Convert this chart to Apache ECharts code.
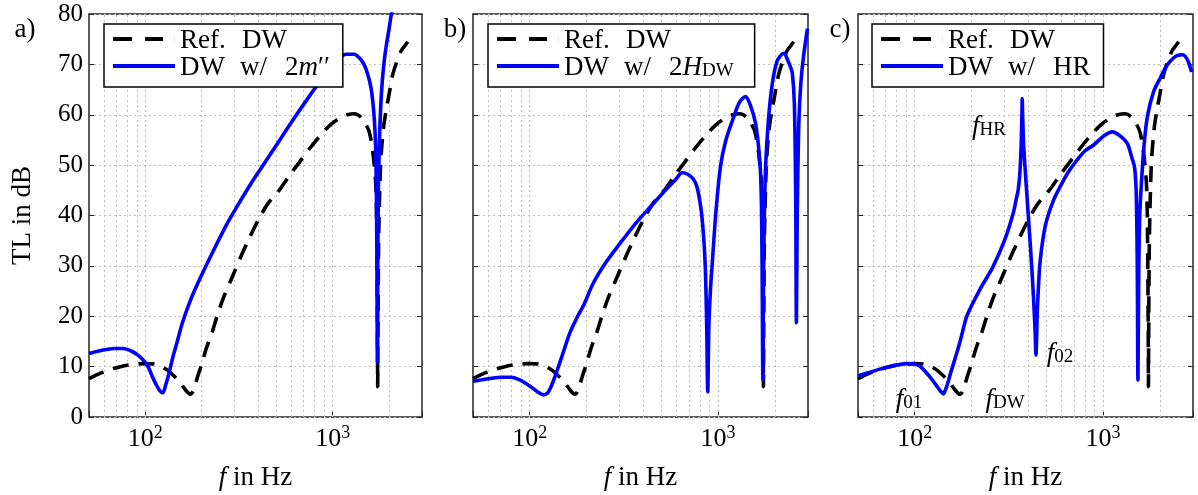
<!DOCTYPE html>
<html><head><meta charset="utf-8">
<script src="https://cdn.jsdelivr.net/npm/echarts@6/dist/echarts.min.js"></script>
<style>html,body{margin:0;padding:0;background:#fff}#c{width:1198px;height:495px}</style>
</head><body><div id="c"></div><script>
// ---------- data ----------
const refFreq = [50,56,63,72,84,100,112,122,130,140,152,162,169,174,179,184,190,200,211,227,241,260,291,325,355,373,410,454,518,590,662,750,847,960,1086,1200,1307,1420,1500,1571,1640,1700,1722,1735,1740,1746,1760,1790,1815,1870,1929,2000,2095,2200,2323,2420,2520];
const refTL   = [7.6,8.5,9.3,9.9,10.4,10.6,10.5,10.0,9.4,8.4,7.0,5.6,4.8,4.5,5.0,6.2,8.0,10.5,13.5,16.8,19.9,23.5,27.8,32.0,35.1,36.8,39.8,42.5,45.0,48.0,50.5,53.2,55.6,57.8,59.3,60.0,60.2,59.5,58.2,56.5,52.5,46,35,18,6,18,35,47,52,57.5,60.8,64.0,68.0,70.5,72.7,73.6,74.5];

const massFreq = [50,58,68,76,84,92,99,104,109,114,119,124,128,132,136,140,148,158,175,193,230,268,310,373,440,518,610,720,850,1000,1090,1180,1300,1387,1470,1538,1600,1636,1670,1695,1712,1724,1733,1742,1755,1778,1820,1870,1930,2000,2060,2200];
const massTL   = [12.6,13.2,13.6,13.6,13.1,12.2,11.0,9.8,8.0,6.5,5.3,4.8,6.2,7.9,9.8,11.8,15.0,18.8,23.4,27.0,32.9,37.8,41.9,46.8,50.8,54.8,58.8,62.7,66.5,70.2,71.4,72.0,72.0,71.3,70.0,68.1,65.5,62.8,59.0,54.0,45.0,30.0,10.9,30.0,45.0,55.0,64.0,69.5,73.5,77.0,80.0,85.0];

const heightFreq = [50,60,72,80,88,96,104,112,118,124,129,133,140,150,163,177,195,217,255,302,370,454,540,600,643,690,740,772,810,835,855,870,881,893,910,929,975,1029,1100,1211,1300,1397,1480,1580,1650,1690,1712,1728,1740,1760,1787,1850,1940,2050,2150,2239,2330,2420,2479,2540,2580,2604,2630,2680,2748,2850,2981];
const heightTL   = [7.1,7.6,7.9,7.9,7.4,6.6,5.7,4.8,4.4,4.7,5.8,7.0,9.3,12.6,16.6,19.5,22.5,26.5,30.8,34.5,38.7,42.4,45.5,47.3,48.5,48.2,47.2,45.7,41.5,36.5,29.8,18.0,5.0,18.0,25.0,30.0,41.0,49.7,55.0,59.6,62.5,63.6,62.0,58.3,52.5,46.0,30.0,7.3,25.0,40.0,49.7,59.0,66.2,70.5,71.8,72.2,71.0,69.5,68.2,62.0,45.0,18.7,40.0,58.0,66.2,72.0,77.1];

const hrFreq = [50,58,68,80,91,100,107,114,120,126,133,138,142,146,150,155,165,175,187,195,221,260,300,333,347,354,360,364,367,369,371,372,374,376,379,390,400,411,422,430,436,440,444,447,454,462,480,502,545,591,650,727,800,891,1000,1117,1230,1343,1420,1470,1500,1518,1531,1545,1565,1597,1650,1717,1850,2023,2200,2486,2650,2810,2950];
const hrTL   = [8.2,8.9,9.7,10.3,10.6,10.5,10.0,9.0,8.0,7.0,5.8,5.0,4.6,5.5,6.8,8.7,12.0,15.3,19.5,21.2,25.2,29.8,35.1,40.4,43.5,45.0,47.5,50.3,53.5,56.9,60.5,63.2,60.0,57.0,53.6,46.5,40.4,34.0,27.2,21.5,16.6,12.3,16.0,20.6,26.0,30.5,35.5,39.1,43.0,45.7,48.5,51.0,52.8,54.0,55.7,56.6,55.8,54.3,51.5,49.5,44.0,30.0,7.3,28.0,40.0,46.4,54.0,59.6,64.5,67.5,70.0,71.8,71.9,70.8,68.5];

const refName = 'Ref. DW';
const blueNames = ['DW w/ 2m', 'DW w/ 2H_DW', 'DW w/ HR'];
const blueFreqs = [massFreq, heightFreq, hrFreq];
const blueTLs = [massTL, heightTL, hrTL];
const panelLabels = ['a)', 'b)', 'c)'];
const yTickStep = 10;
const xGridValues = [60,70,80,90,100,200,300,400,500,600,700,800,900,1000,2000];
const annotations = [
  {main: 'f', sub: 'HR', x: 989, y: 125},
  {main: 'f', sub: '02', x: 1060, y: 352},
  {main: 'f', sub: '01', x: 909, y: 398},
  {main: 'f', sub: 'DW', x: 1005, y: 398}
];

// ---------- layout / style ----------
const FONT = 'Liberation Serif';
const AX = '#262626';
const GRIDC = '#bdbdbd';
const gridBoxes = [{left: 89, width: 333}, {left: 473, width: 335}, {left: 858, width: 335}];
const TOP = 14, HEIGHT = 403;
const legendBoxes = [{left: 104, pr: 13}, {left: 488, pr: 21}, {left: 872, pr: 13}];
const legendPadL = [9, 9, 9];

const zip = (a, b) => a.map((v, i) => [v, b[i]]);

const baseTok = {fontFamily: FONT, fontSize: 27, lineHeight: 30, color: '#000', verticalAlign: 'bottom', align: 'left'};
const legendRich = {
  r: Object.assign({}, baseTok),
  ref: Object.assign({}, baseTok, {width: 62}),
  dw: Object.assign({}, baseTok, {width: 60}),
  w: Object.assign({}, baseTok, {width: 45}),
  i: Object.assign({}, baseTok, {fontStyle: 'italic'}),
  s: Object.assign({}, baseTok, {fontSize: 19, lineHeight: 15})
};
const legendText = {
  'Ref. DW': '{ref|Ref.}{r|DW}',
  'DW w/ 2m': '{dw|DW}{w|w/}{r|2}{i|m}{r|\u2032\u2032}',
  'DW w/ 2H_DW': '{dw|DW}{w|w/}{r|2}{i|H}{s|DW}',
  'DW w/ HR': '{dw|DW}{w|w/}{r|HR}'
};
const DASH_ICON = 'path://M0,0H19V4H0Z M32,0H50V4H32Z M61.9,0H62V4H61.9Z';

const grid = [], xAxis = [], yAxis = [], series = [], legend = [], graphic = [];
for (let i = 0; i < 3; i++) {
  grid.push({left: gridBoxes[i].left, width: gridBoxes[i].width, top: TOP, height: HEIGHT,
    show: true, borderColor: AX, borderWidth: 1.5, backgroundColor: '#fff',
    containLabel: false, outerBoundsMode: 'none'});
  xAxis.push({
    type: 'log', logBase: 10, gridIndex: i, min: 50, max: 3000,
    axisLine: {show: false},
    axisTick: {show: true, inside: true, length: 6, lineStyle: {color: AX, width: 1}},
    splitLine: {show: false},
    axisLabel: {
      margin: 7, color: '#000',
      formatter: function (v) {
        const e = Math.round(Math.log10(v));
        if (Math.abs(v - Math.pow(10, e)) < 1e-6 * v) return '{b|10}{p|' + e + '}';
        return '';
      },
      rich: {
        b: {fontFamily: FONT, fontSize: 26, lineHeight: 28, color: '#000', verticalAlign: 'bottom'},
        p: {fontFamily: FONT, fontSize: 18, lineHeight: 12, color: '#000', verticalAlign: 'top'}
      }
    },
    name: '{i|f}{r| in Hz}', nameLocation: 'middle', nameGap: 44,
    nameTextStyle: {rich: {
      i: Object.assign({}, baseTok, {fontStyle: 'italic', align: 'center'}),
      r: Object.assign({}, baseTok, {align: 'center'})
    }}
  });
  yAxis.push({
    type: 'value', gridIndex: i, min: 0, max: 80, interval: yTickStep,
    axisLine: {show: false},
    axisTick: {show: true, inside: true, length: 5, lineStyle: {color: AX, width: 1}},
    axisLabel: {show: i === 0, fontFamily: FONT, fontSize: 25, color: '#000', margin: 6},
    splitLine: {show: true, lineStyle: {color: GRIDC, type: [2, 3], width: 1}},
    name: i === 0 ? 'TL in dB' : '', nameLocation: 'middle', nameGap: 51,
    nameTextStyle: {fontFamily: FONT, fontSize: 27, color: '#000', lineHeight: 30}
  });
  yAxis.push({
    type: 'value', gridIndex: i, position: 'right', min: 0, max: 80, interval: yTickStep,
    axisLine: {show: false},
    axisTick: {show: true, inside: true, length: 5, lineStyle: {color: AX, width: 1}},
    axisLabel: {show: false}, splitLine: {show: false}
  });
  series.push({
    type: 'line', name: refName, xAxisIndex: i, yAxisIndex: 2 * i,
    data: zip(refFreq, refTL), symbol: 'none', smooth: 0.3, z: 2,
    color: '#000',
    lineStyle: {color: '#000', width: 3.6, type: [16, 10]},
    emphasis: {disabled: true},
    markLine: {
      silent: true, symbol: ['none', 'none'], label: {show: false}, z: 1, animation: false,
      emphasis: {disabled: true},
      lineStyle: {color: GRIDC, type: [2, 3], width: 1},
      data: xGridValues.map(v => ({xAxis: v}))
    }
  });
  series.push({
    type: 'line', name: blueNames[i], xAxisIndex: i, yAxisIndex: 2 * i,
    data: zip(blueFreqs[i], blueTLs[i]), symbol: 'none', smooth: 0.3, z: 3,
    color: '#0000ff',
    lineStyle: {color: '#0000ff', width: 3.6},
    emphasis: {disabled: true}
  });
  legend.push({
    left: legendBoxes[i].left, top: 24, orient: 'vertical',
    itemWidth: 62, itemHeight: 4, itemGap: 0,
    padding: [3, legendBoxes[i].pr, 6, legendPadL[i]],
    borderColor: '#000', borderWidth: 1.5, backgroundColor: '#fff', borderRadius: 0,
    z: 10, selectedMode: false,
    itemStyle: {borderWidth: 0},
    data: [{name: refName, icon: DASH_ICON}, {name: blueNames[i], icon: 'rect'}],
    formatter: n => legendText[n],
    textStyle: {rich: legendRich}
  });
  graphic.push({
    type: 'text', x: [25, 455, 840][i], y: 30, z: 20,
    style: {text: panelLabels[i], fontFamily: FONT, fontSize: 27, fill: '#000', align: 'center', verticalAlign: 'middle'}
  });
}
annotations.forEach(a => {
  graphic.push({
    type: 'text', x: a.x, y: a.y, z: 20,
    style: {
      text: '{f|' + a.main + '}{s|' + a.sub + '}', align: 'center', verticalAlign: 'middle',
      rich: {
        f: {fontFamily: FONT, fontSize: 27, lineHeight: 30, fontStyle: 'italic', fill: '#000', verticalAlign: 'bottom'},
        s: {fontFamily: FONT, fontSize: 19, lineHeight: 15, fill: '#000', verticalAlign: 'bottom'}
      }
    }
  });
});

const chart = echarts.init(document.getElementById('c'), null, {renderer: 'canvas'});
chart.setOption({
  animation: false,
  backgroundColor: '#fff',
  grid, xAxis, yAxis, series, legend, graphic
});
</script></body></html>
